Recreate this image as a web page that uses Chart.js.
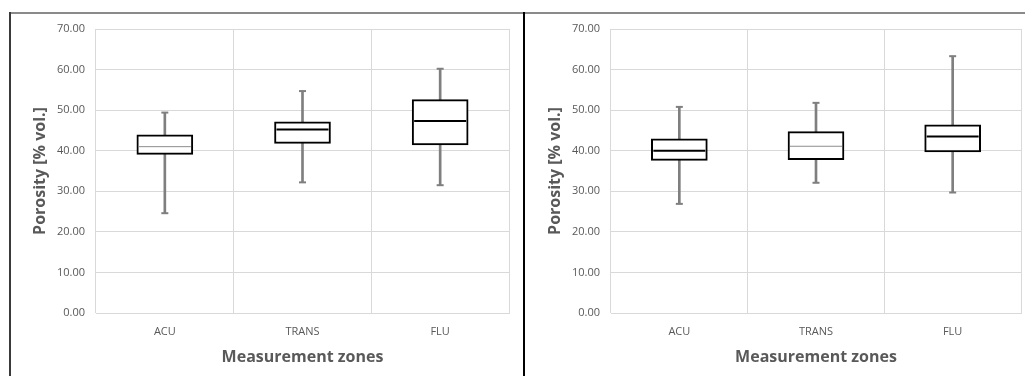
<!DOCTYPE html>
<html>
<head>
<meta charset="utf-8">
<script src="https://cdn.jsdelivr.net/npm/chart.js@4/dist/chart.umd.min.js"></script>
<style>
  html, body { margin: 0; padding: 0; background: #fff; }
  body { width: 1025px; height: 376px; position: relative; overflow: hidden; }
  .panel { position: absolute; top: 0; height: 376px; }
  #leftPanel { left: 0; width: 523px; }
  #rightPanel { left: 525px; width: 500px; }
  .frameTop { position: absolute; left: 9px; top: 12px; width: 1016px; height: 2px; background: #8a8a8a; }
  .frameLeft { position: absolute; left: 9px; top: 12px; width: 2px; height: 364px; background: #3a3a3a; }
  .frameMid { position: absolute; left: 523px; top: 12px; width: 2px; height: 364px; background: #000; }
</style>
</head>
<body>
<div class="panel" id="leftPanel"><canvas id="chartLeft"></canvas></div>
<div class="panel" id="rightPanel"><canvas id="chartRight"></canvas></div>
<div class="frameTop"></div>
<div class="frameLeft"></div>
<div class="frameMid"></div>
<script>
// measurement zones on the x axis
const zones = ['ACU', 'TRANS', 'FLU'];

// left panel box plot values (% vol.)
const leftMin    = [24.6, 32.2, 31.5];
const leftQ1     = [39.1, 41.8, 41.4];
const leftMedian = [41.0, 45.2, 47.3];
const leftQ3     = [43.9, 47.1, 52.6];
const leftMax    = [49.4, 54.7, 60.2];

// right panel box plot values (% vol.)
const rightMin    = [26.9, 32.1, 29.7];
const rightQ1     = [37.6, 37.8, 39.7];
const rightMedian = [40.0, 41.1, 43.5];
const rightQ3     = [42.9, 44.7, 46.4];
const rightMax    = [50.8, 51.8, 63.3];

// y axis ticks
const yMin = 0;
const yMax = 70;
const yStep = 10;

const FONT = "'Open Sans', 'Noto Sans', sans-serif";
const GREY_TEXT = '#595959';
const WHISKER = '#7f7f7f';

function buildChart(canvasId, mins, q1s, medians, q3s, maxs, thinMedian, geo) {
    const medianColor = thinMedian.map(t => t ? '#8c8c8c' : '#000');
    const medianWidth = thinMedian.map(t => t ? 1 : 2);

    return new Chart(document.getElementById(canvasId), {
        type: 'bar',
        data: {
            labels: zones,
            datasets: [
                {
                    // median line
                    type: 'line',
                    data: medians,
                    showLine: false,
                    pointStyle: 'line',
                    pointRadius: 26,
                    pointBorderColor: medianColor,
                    pointBorderWidth: medianWidth,
                    pointBackgroundColor: medianColor
                },
                {
                    // upper cap
                    type: 'line',
                    data: maxs,
                    showLine: false,
                    pointStyle: 'line',
                    pointRadius: 3.5,
                    pointBorderColor: WHISKER,
                    pointBorderWidth: 2
                },
                {
                    // lower cap
                    type: 'line',
                    data: mins,
                    showLine: false,
                    pointStyle: 'line',
                    pointRadius: 3.5,
                    pointBorderColor: WHISKER,
                    pointBorderWidth: 2
                },
                {
                    // box q1..q3
                    data: q1s.map((q, i) => [q, q3s[i]]),
                    backgroundColor: '#fff',
                    borderColor: '#000',
                    borderWidth: 2,
                    borderSkipped: false,
                    barThickness: 56,
                    grouped: false
                },
                {
                    // whisker min..max
                    data: mins.map((m, i) => [m, maxs[i]]),
                    backgroundColor: WHISKER,
                    borderWidth: 0,
                    barThickness: 2,
                    grouped: false
                }
            ]
        },
        options: {
            responsive: true,
            maintainAspectRatio: false,
            animation: false,
            events: [],
            layout: {
                autoPadding: false,
                padding: { left: 0, right: geo.padRight, top: 29, bottom: 0 }
            },
            scales: {
                x: {
                    grid: { color: '#d9d9d9', lineWidth: 1, drawTicks: false, offset: true },
                    border: { color: '#d9d9d9' },
                    ticks: {
                        color: GREY_TEXT,
                        padding: 12,
                        font: { family: FONT, size: 11 }
                    },
                    title: {
                        display: true,
                        text: 'Measurement zones',
                        color: GREY_TEXT,
                        padding: { top: 0, bottom: 9 },
                        font: { family: FONT, size: 16, weight: 'bold' }
                    },
                    afterFit: s => { s.height = 63; }
                },
                y: {
                    min: yMin,
                    max: yMax,
                    grid: { color: '#d9d9d9', lineWidth: 1, drawTicks: false },
                    border: { display: false },
                    ticks: {
                        stepSize: yStep,
                        color: GREY_TEXT,
                        padding: 11,
                        font: { family: FONT, size: 11 },
                        callback: v => v.toFixed(2)
                    },
                    title: {
                        display: true,
                        text: 'Porosity [% vol.]',
                        color: GREY_TEXT,
                        padding: { top: geo.titlePad, bottom: 0 },
                        font: { family: FONT, size: 16, weight: 'bold' }
                    },
                    afterFit: s => { s.width = geo.axisWidth; }
                }
            },
            plugins: {
                legend: { display: false },
                tooltip: { enabled: false }
            }
        }
    });
}

buildChart('chartLeft', leftMin, leftQ1, leftMedian, leftQ3, leftMax,
    [true, false, false], { padRight: 14, axisWidth: 96, titlePad: 31 });

buildChart('chartRight', rightMin, rightQ1, rightMedian, rightQ3, rightMax,
    [false, true, false], { padRight: 4, axisWidth: 86, titlePad: 21 });
</script>
</body>
</html>
